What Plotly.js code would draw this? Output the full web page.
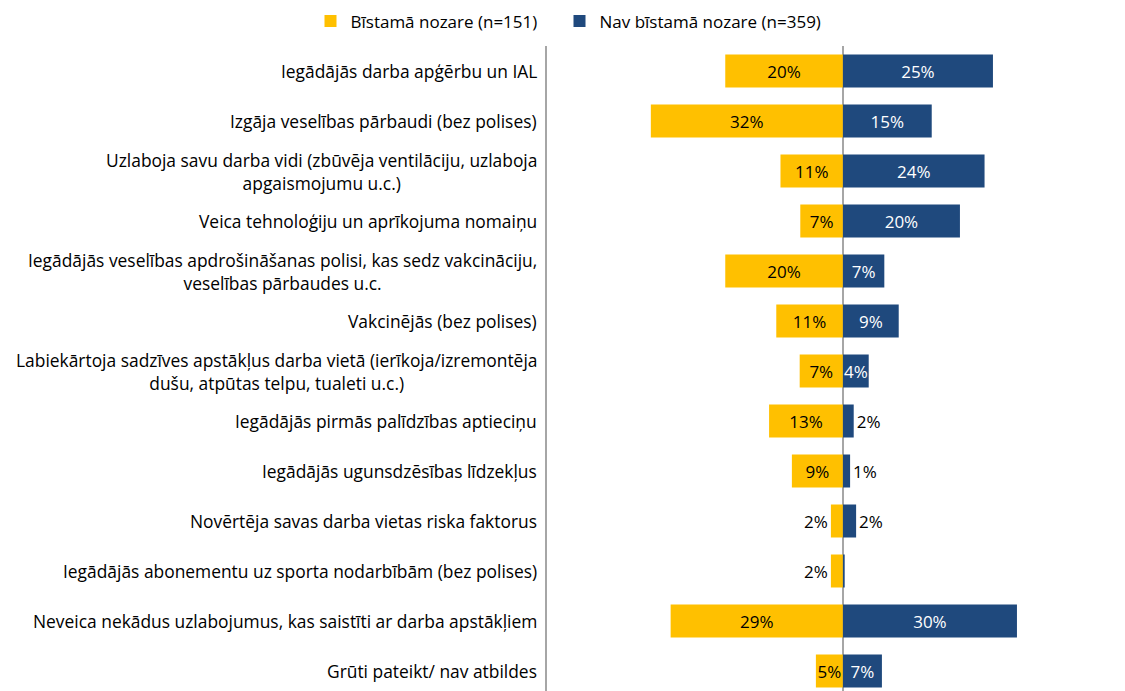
<!DOCTYPE html>
<html>
<head>
<meta charset="utf-8">
<script src="https://cdn.plot.ly/plotly-3.0.1.min.js"></script>
<style>html,body{margin:0;padding:0;background:#fff;}#chart{width:1125px;height:691px;}</style>
</head>
<body>
<div id="chart"></div>
<script>
const categories = [
  "Iegādājās darba apģērbu un IAL",
  "Izgāja veselības pārbaudi (bez polises)",
  "Uzlaboja savu darba vidi (zbūvēja ventilāciju, uzlaboja<br>apgaismojumu u.c.)",
  "Veica tehnoloģiju un aprīkojuma nomaiņu",
  "Iegādājās veselības apdrošināšanas polisi, kas sedz vakcināciju,<br>veselības pārbaudes u.c.",
  "Vakcinējās (bez polises)",
  "Labiekārtoja sadzīves apstākļus darba vietā (ierīkoja/izremontēja<br>dušu, atpūtas telpu, tualeti u.c.)",
  "Iegādājās pirmās palīdzības aptieciņu",
  "Iegādājās ugunsdzēsības līdzekļus",
  "Novērtēja savas darba vietas riska faktorus",
  "Iegādājās abonementu uz sporta nodarbībām (bez polises)",
  "Neveica nekādus uzlabojumus, kas saistīti ar darba apstākļiem",
  "Grūti pateikt/ nav atbildes"
];
const seriesNames = ["Bīstamā nozare (n=151)", "Nav bīstamā nozare (n=359)"];
const dangerous = [19.6, 32.0, 10.4, 7.1, 19.6, 11.1, 7.2, 12.3, 8.5, 2.0, 2.0, 28.7, 4.5];
const notDangerous = [25.0, 14.8, 23.6, 19.5, 6.9, 9.3, 4.3, 1.8, 1.2, 2.2, 0.3, 29.0, 6.5];
const dangerousLabels = ["20%", "32%", "11%", "7%", "20%", "11%", "7%", "13%", "9%", "2%", "2%", "29%", "5%"];
const notDangerousLabels = ["25%", "15%", "24%", "20%", "7%", "9%", "4%", "2%", "1%", "2%", "", "30%", "7%"];

const YELLOW = "#FFC000";
const BLUE = "#1F497D";
const FONT = "'Open Sans', Lato, sans-serif";

const ids = categories.map((c, i) => "c" + i);

const dPos = dangerous.map(v => v < 4 ? "outside" : "inside");
const nPos = notDangerous.map(v => v < 3 ? "outside" : "inside");
const nColor = notDangerous.map(v => v < 3 ? "#000000" : "#FFFFFF");

const traces = [
  {
    type: "bar", orientation: "h", name: seriesNames[0],
    y: ids, x: dangerous.map(v => -v),
    marker: {color: YELLOW},
    text: dangerousLabels, textposition: dPos, textangle: 0,
    insidetextanchor: "middle", constraintext: "none", cliponaxis: false,
    textfont: {family: FONT, size: 17, color: "#000000"},
    legendwidth: 204,
    hoverinfo: "skip"
  },
  {
    type: "bar", orientation: "h", name: seriesNames[1],
    y: ids, x: notDangerous,
    marker: {color: BLUE},
    text: notDangerousLabels, textposition: nPos, textangle: 0,
    insidetextanchor: "middle", constraintext: "none", cliponaxis: false,
    textfont: {family: FONT, size: 17, color: nColor},
    hoverinfo: "skip"
  }
];

const annotations = categories.map((c, i) => ({
  xref: "paper", yref: "y", x: 0, y: ids[i],
  xanchor: "right", yanchor: "middle", xshift: -8,
  text: c, align: "center", showarrow: false,
  font: {family: FONT, size: 17.4, color: "#000000"}
}));

const layout = {
  width: 1125, height: 691,
  margin: {l: 547, r: 0, t: 46, b: 0, pad: 0},
  paper_bgcolor: "#FFFFFF", plot_bgcolor: "#FFFFFF",
  barmode: "relative", bargap: 0.34,
  font: {family: FONT, size: 17, color: "#000000"},
  showlegend: true,
  legend: {
    orientation: "h", xref: "container", yref: "container",
    x: 0.276, xanchor: "left", y: 0.995, yanchor: "top",
    font: {family: FONT, size: 17, color: "#000000"},
    itemwidth: 30, traceorder: "normal"
  },
  xaxis: {
    range: [-49.3, 47], showgrid: false, showticklabels: false, ticks: "",
    zeroline: true, zerolinecolor: "#A6A6A6", zerolinewidth: 2.5, fixedrange: true
  },
  yaxis: {
    type: "category", categoryorder: "array", categoryarray: ids,
    range: [12.4, -0.5], showticklabels: false, ticks: "", showgrid: false,
    showline: true, linecolor: "#A6A6A6", linewidth: 2.5, zeroline: false, fixedrange: true
  },
  annotations: annotations
};

Plotly.newPlot("chart", traces, layout, {displayModeBar: false, staticPlot: true});
</script>
</body>
</html>
